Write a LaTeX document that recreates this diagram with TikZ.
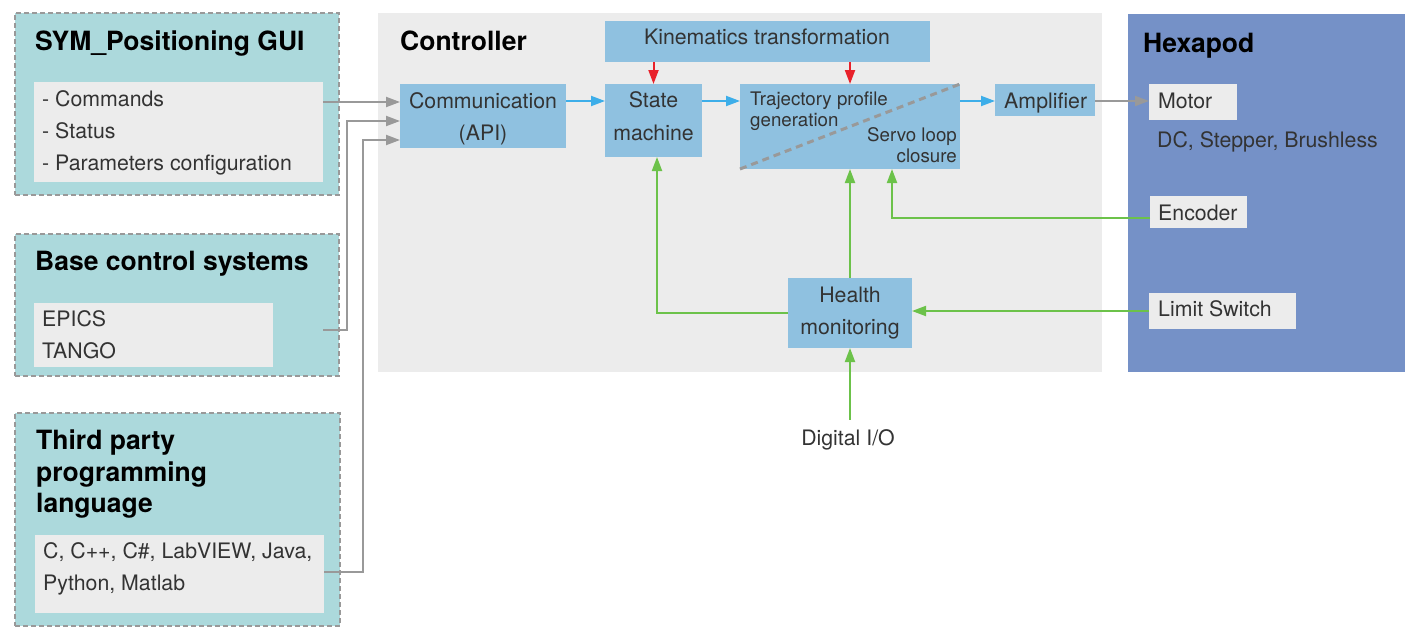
\documentclass[tikz,border=0pt]{standalone}
\usepackage{fontspec}
\setmainfont{TeX Gyre Heros}
\usetikzlibrary{arrows.meta,calc}
\definecolor{panelc}{HTML}{ACD9DC}
\definecolor{lgray}{HTML}{ECECEC}
\definecolor{hexc}{HTML}{7591C7}
\definecolor{boxc}{HTML}{8FC1E0}
\definecolor{bluec}{HTML}{3DAEE9}
\definecolor{redc}{HTML}{E8212A}
\definecolor{greenc}{HTML}{6CC24A}
\definecolor{linec}{HTML}{999999}
\definecolor{textc}{HTML}{333333}
\begin{document}
\begin{tikzpicture}[x=1pt,y=-1pt,
  rect/.style={inner sep=0, outer sep=0, anchor=north west},
  panel/.style={rect, fill=panelc, draw=linec, line width=2.4pt, dash pattern=on 5pt off 3pt},
  inbox/.style={rect, fill=lgray},
  bbox/.style={rect, fill=boxc},
  lbl/.style={inner sep=0, anchor=base west, text=textc, font=\fontsize{21.3}{24}\selectfont},
  clbl/.style={lbl, anchor=base},
  slbl/.style={lbl, font=\fontsize{18.7}{22}\selectfont},
  srlbl/.style={slbl, anchor=base east},
  ttl/.style={inner sep=0, anchor=base west, text=black, font=\fontsize{26.5}{30}\selectfont\bfseries},
  conn/.style={line width=2pt, -{Triangle[length=14pt,width=10pt]}},
  gline/.style={conn, draw=linec},
  bline/.style={conn, draw=bluec},
  rline/.style={conn, draw=redc},
  gnline/.style={conn, draw=greenc},
  dashln/.style={draw=linec, line width=3pt, dash pattern=on 7pt off 5pt}
]
\useasboundingbox (0,0) rectangle (1405,627);

% ---------- left panels ----------
\node[panel, minimum width=324, minimum height=182] (gui) at (15,13) {};
\node[inbox, minimum width=289, minimum height=100] (guiin) at (34,82) {};
\node[ttl] (guit) at (35,50) {SYM\_Positioning GUI};
\node[lbl] (gui1) at (42,106.7) {- Commands};
\node[lbl] (gui2) at (42,138.3) {- Status};
\node[lbl] (gui3) at (42,170) {- Parameters configuration};

\node[panel, minimum width=324, minimum height=142] (base) at (15,234) {};
\node[inbox, minimum width=239, minimum height=64] (basein) at (34,303) {};
\node[ttl] (baset) at (35,270.7) {Base control systems};
\node[lbl] (base1) at (42,326.7) {EPICS};
\node[lbl] (base2) at (42,358.3) {TANGO};

\node[panel, minimum width=325, minimum height=213] (third) at (15,413) {};
\node[inbox, minimum width=289, minimum height=78] (thirdin) at (35,535) {};
\node[ttl] (thirdt1) at (36,449.3) {Third party};
\node[ttl] (thirdt2) at (36,481) {programming};
\node[ttl] (thirdt3) at (36,512.7) {language};
\node[lbl] (third1) at (43,558.3) {C, C++, C\#, LabVIEW, Java,};
\node[lbl] (third2) at (43,590) {Python, Matlab};

% ---------- controller ----------
\node[inbox, minimum width=724, minimum height=359] (ctrl) at (378,13) {};
\node[ttl] (ctrlt) at (400,50) {Controller};

\node[bbox, minimum width=166, minimum height=64] (comm) at (400,84) {};
\node[clbl] (comm1) at (483,108.3) {Communication};
\node[clbl] (comm2) at (483,140) {(API)};

\node[bbox, minimum width=325, minimum height=41] (kin) at (605,21) {};
\node[clbl] (kint) at (767,44) {Kinematics transformation};

\node[bbox, minimum width=97, minimum height=73] (state) at (605,84) {};
\node[clbl] (state1) at (653.5,107.3) {State};
\node[clbl] (state2) at (653.5,140) {machine};

\node[bbox, minimum width=220, minimum height=85] (traj) at (740,84) {};
\draw[dashln] (traj.south west) -- (traj.north east);
\node[slbl] (traj1) at (750,105.7) {Trajectory profile};
\node[slbl] (traj2) at (750,126.7) {generation};
\node[srlbl] (servo1) at (957,141.7) {Servo loop};
\node[srlbl] (servo2) at (957,162.3) {closure};

\node[bbox, minimum width=100, minimum height=32] (amp) at (995,84) {};
\node[lbl] (ampt) at (1004,108.3) {Amplifier};

\node[bbox, minimum width=124, minimum height=70] (health) at (788,278) {};
\node[clbl] (health1) at (850,302.7) {Health};
\node[clbl] (health2) at (850,334.3) {monitoring};

\node[clbl] (dio) at (848,445) {Digital I/O};

% ---------- hexapod ----------
\node[rect, fill=hexc, minimum width=277, minimum height=358] (hexa) at (1128,14) {};
\node[ttl] (hexat) at (1143,52.3) {Hexapod};
\node[inbox, minimum width=88, minimum height=36] (motor) at (1149,84) {};
\node[lbl] (motort) at (1158,108.3) {Motor};
\node[lbl] (dct) at (1157,147.7) {DC, Stepper, Brushless};
\node[inbox, minimum width=97, minimum height=32] (enc) at (1150,196) {};
\node[lbl] (enct) at (1158,220) {Encoder};
\node[inbox, minimum width=147, minimum height=36] (limit) at (1149,293) {};
\node[lbl] (limitt) at (1158,316) {Limit Switch};

% ---------- connectors ----------
\draw[gline] ([yshift=-20pt]guiin.north east) -- ([yshift=-18pt]comm.north west);
\draw[gline] ([xshift=-16pt,yshift=-25pt]base.east) -- ++(24,0) |- ([yshift=-37pt]comm.north west);
\draw[gline] ([yshift=2pt]thirdin.east) -- ++(39,0) |- ([yshift=-56pt]comm.north west);

\draw[bline] ([yshift=-17pt]comm.north east) -- ([yshift=-17pt]state.north west);
\draw[bline] ([yshift=-17pt]state.north east) -- ([yshift=-17pt]traj.north west);
\draw[bline] ([yshift=-17pt]traj.north east) -- ([yshift=-17pt]amp.north west);
\draw[gline] ([yshift=-17pt]amp.north east) -- ([yshift=-17pt]motor.north west);

\draw[rline] (kin.south -| state.north) -- (state.north);
\draw[rline] (kin.south -| traj.north) -- (traj.north);

\draw[gnline] (health.north) -- (health.north |- traj.south);
\draw[gnline] (health.west) -| ([xshift=3.5pt]state.south);
\draw[gnline] ([yshift=-6pt]enc.west) -| ([xshift=42pt]traj.south);
\draw[gnline] (limit.west) -- (limit.west -| health.east);
\coordinate (dtop) at ([yshift=9pt]dio.north);
\draw[gnline] (dtop -| health.south) -- (health.south);
\end{tikzpicture}
\end{document}
